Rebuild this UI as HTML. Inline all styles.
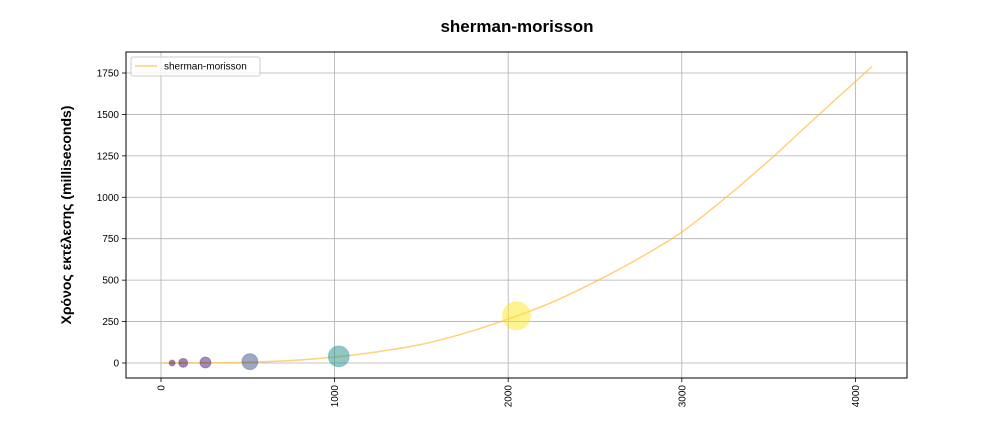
<!DOCTYPE html>
<html><head><meta charset="utf-8"><style>
html,body{margin:0;padding:0;background:#fff;}
svg{display:block;font-family:"Liberation Sans","DejaVu Sans",sans-serif;}
</style></head><body>
<svg id="chart" width="1008" height="432"></svg>
<script>
const sizesN = [64, 128, 256, 512, 1024, 2048];
const timesMs = [0.3, 1, 3, 8, 40, 285];
const radii = [3, 4.5, 5.5, 8, 10.5, 14];
const colors = ["#440154", "#450a5c", "#471a6b", "#3b528b", "#21918c", "#fde725"];
const curveX = [0, 250, 500, 750, 1000, 1250, 1500, 1750, 2000, 2250, 2500, 2750, 3000, 3250, 3500, 3750, 4096];
const curveY = [0, 1, 5, 15, 36, 68, 112, 180, 265, 365, 490, 630, 790, 995, 1220, 1460, 1790];
const xTicks = [0, 1000, 2000, 3000, 4000];
const yTicks = [0, 250, 500, 750, 1000, 1250, 1500, 1750];

const NS = "http://www.w3.org/2000/svg";
const svg = document.getElementById('chart');
const L = 126, R = 907, T = 52, B = 378;
const xs = v => 161 + v * 0.1736;
const ys = v => 363 - v * (41.43 / 250);
function mk(tag, attrs, parent) {
  const e = document.createElementNS(NS, tag);
  for (const k in attrs) e.setAttribute(k, attrs[k]);
  (parent || svg).appendChild(e);
  return e;
}
const title = mk('text', {x: 517, y: 32, 'text-anchor': 'middle', 'font-size': 17, 'font-weight': 'bold'});
title.textContent = 'sherman-morisson';



const grid = mk('g', {});


xTicks.forEach(t => {
  const x = xs(t);
  mk('line', {x1: x, x2: x, y1: T, y2: B, stroke: '#b0b0b0', 'stroke-width': 0.8}, grid);
  mk('line', {x1: x, x2: x, y1: B, y2: B + 4, stroke: '#000', 'stroke-width': 0.8}, grid);
  const tx = mk('text', {x: 0, y: 0, 'font-size': 10, 'text-anchor': 'end', transform: `translate(${x + 3.5},${B + 7}) rotate(-90)`});
  tx.textContent = t;
  
  
});
yTicks.forEach(t => {
  const y = ys(t);
  mk('line', {x1: L, x2: R, y1: y, y2: y, stroke: '#b0b0b0', 'stroke-width': 0.8}, grid);
  mk('line', {x1: L - 4, x2: L, y1: y, y2: y, stroke: '#000', 'stroke-width': 0.8}, grid);
  const tx = mk('text', {x: L - 7, y: y + 3.5, 'font-size': 10, 'text-anchor': 'end'});
  tx.textContent = t;
  
  
});
const yt = mk('text', {x: 0, y: 0, 'font-size': 14, 'font-weight': 'bold', 'text-anchor': 'middle', transform: `translate(71,215) rotate(-90)`});
yt.textContent = 'Χρόνος εκτέλεσης (milliseconds)';



// smooth curve (Catmull-Rom) through the sampled points
const P = curveX.map((x, i) => [xs(x), ys(curveY[i])]);
let d = `M${P[0][0]},${P[0][1]}`;
for (let i = 0; i < P.length - 1; i++) {
  const p0 = P[Math.max(0, i - 1)], p1 = P[i], p2 = P[i + 1], p3 = P[Math.min(P.length - 1, i + 2)];
  const c1 = [p1[0] + (p2[0] - p0[0]) / 6, p1[1] + (p2[1] - p0[1]) / 6];
  const c2 = [p2[0] - (p3[0] - p1[0]) / 6, p2[1] - (p3[1] - p1[1]) / 6];
  d += ` C${c1[0].toFixed(1)},${c1[1].toFixed(1)} ${c2[0].toFixed(1)},${c2[1].toFixed(1)} ${p2[0].toFixed(1)},${p2[1].toFixed(1)}`;
}
const line = mk('path', {d: d, fill: 'none', stroke: '#fdbf3f', 'stroke-opacity': 0.7, 'stroke-width': 1.5});



sizesN.forEach((n, i) => {
  const c = mk('circle', {cx: xs(n), cy: ys(timesMs[i]), r: radii[i], fill: colors[i], 'fill-opacity': 0.5, stroke: colors[i], 'stroke-opacity': 0.3});
  
  
});

const frame = mk('rect', {x: L, y: T, width: R - L, height: B - T, fill: 'none', stroke: '#000', 'stroke-width': 1});



const lg = mk('g', {});


mk('rect', {x: 131, y: 57, width: 129, height: 19, rx: 2, fill: '#fff', 'fill-opacity': 0.8, stroke: '#ccc'}, lg);
mk('line', {x1: 135, x2: 157, y1: 66, y2: 66, stroke: '#fdbf3f', 'stroke-opacity': 0.7, 'stroke-width': 1.5}, lg);
const lt = mk('text', {x: 164, y: 69.5, 'font-size': 10}, lg);
lt.textContent = 'sherman-morisson';


</script>
</body></html>
